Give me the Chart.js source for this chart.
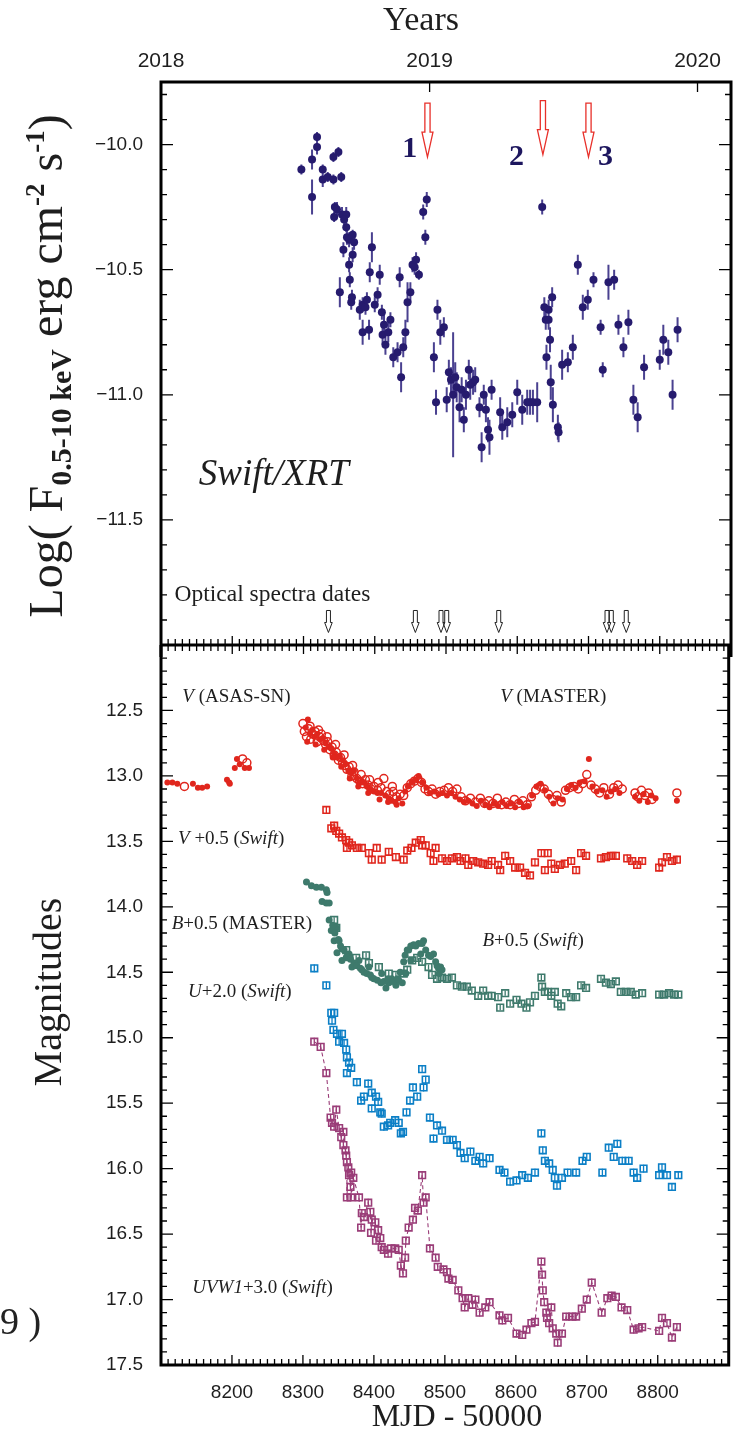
<!DOCTYPE html>
<html>
<head>
<meta charset="utf-8">
<script src="https://cdn.jsdelivr.net/npm/chart.js@4/dist/chart.umd.min.js"></script>
<style>
  html, body { margin: 0; padding: 0; background: #fff; }
  #wrap { position: relative; width: 735px; height: 1440px; overflow: hidden; }
  canvas { position: absolute; left: 0; }
  #cTop { top: 0; }
  #cBot { top: 600px; }
  #frag { position: absolute; left: 0; top: 1302px; font: 38px "Liberation Serif"; line-height: 38px; color: #222; }
</style>
</head>
<body>
<div id="wrap">
  <canvas id="cBot" width="735" height="840"></canvas>
  <canvas id="cTop" width="735" height="675"></canvas>
  <div id="frag">9 )</div>
</div>
<script>
// ---------- data ----------
// x axis: MJD - 50000
const mjdRange = [8100, 8900];
const mjdTickVals = [8200, 8300, 8400, 8500, 8600, 8700, 8800];
const yearTickMjd = [8100, 8477, 8853];
const yearLabels = ["2018", "2019", "2020"];

// top panel: Swift/XRT log flux
const fluxRange = [-12.0, -9.75];
const fluxTickVals = [-10.0, -10.5, -11.0, -11.5];
const xrtMjd = [8297, 8312, 8312, 8319, 8319, 8327, 8327, 8334, 8342, 8342, 8349, 8353, 8344, 8347, 8343, 8354,
  8360, 8357, 8360, 8361, 8364, 8369, 8371, 8356, 8369, 8364, 8365, 8351, 8368, 8367, 8379, 8383, 8387, 8389,
  8396, 8393, 8400, 8404, 8407, 8410, 8422, 8435, 8446, 8450, 8453, 8458, 8456, 8462, 8468, 8471, 8473,
  8383, 8392, 8413, 8411, 8419, 8415, 8432, 8426, 8440, 8443, 8437,
  8488, 8492, 8497, 8483, 8486, 8501, 8504, 8507, 8510, 8513, 8515, 8519, 8522, 8525, 8528, 8532, 8534, 8538,
  8541, 8547, 8550, 8553, 8556, 8559, 8561, 8564, 8576, 8579, 8586, 8593, 8600, 8607, 8614, 8618, 8622, 8628,
  8635, 8638, 8644, 8649, 8640, 8644, 8646, 8641, 8647, 8650, 8657, 8658, 8663, 8671, 8678, 8685, 8692, 8699,
  8707, 8717, 8720, 8728, 8736, 8742, 8749, 8756, 8763, 8769, 8778, 8800, 8805, 8812, 8818, 8825];
const xrtFlux = [-10.10, -10.06, -10.21, -9.97, -10.01, -10.10, -10.14, -10.13, -10.14, -10.05, -10.03, -10.13, -10.25, -10.26, -10.29, -10.28,
  -10.28, -10.30, -10.33, -10.37, -10.38, -10.36, -10.39, -10.42, -10.44, -10.48, -10.54, -10.59, -10.61, -10.63, -10.66, -10.64, -10.65, -10.62,
  -10.41, -10.51, -10.64, -10.60, -10.52, -10.67, -10.70, -10.53, -10.63, -10.59, -10.48, -10.46, -10.49, -10.52, -10.27, -10.37, -10.22,
  -10.75, -10.74, -10.72, -10.76, -10.75, -10.80, -10.83, -10.85, -10.81, -10.75, -10.93,
  -10.66, -10.75, -10.73, -10.85, -11.03, -11.02, -10.91, -10.94, -11.00, -10.93, -10.97, -11.05, -10.98, -11.10, -11.00, -10.90, -10.96, -10.95,
  -10.94, -11.05, -11.21, -11.00, -11.06, -11.14, -11.17, -10.98, -11.07, -11.13, -11.11, -11.08, -10.99, -11.06, -11.03, -11.03, -11.03, -11.03,
  -10.25, -10.65, -10.66, -10.61, -10.70, -10.70, -10.78, -10.85, -10.95, -11.04, -11.13, -11.15, -10.88, -10.87, -10.81, -10.48, -10.65, -10.62,
  -10.54, -10.73, -10.90, -10.55, -10.54, -10.72, -10.81, -10.71, -11.02, -11.09, -10.89, -10.86, -10.78, -10.83, -11.00, -10.74];
const xrtErr = [0.02, 0.04, 0.07, 0.02, 0.03, 0.02, 0.03, 0.02, 0.02, 0.02, 0.02, 0.02, 0.02, 0.03, 0.02, 0.03,
  0.03, 0.02, 0.02, 0.03, 0.03, 0.02, 0.03, 0.03, 0.03, 0.03, 0.03, 0.06, 0.03, 0.03, 0.04, 0.03, 0.03, 0.03,
  0.06, 0.04, 0.03, 0.03, 0.04, 0.03, 0.03, 0.04, 0.08, 0.04, 0.03, 0.03, 0.03, 0.02, 0.03, 0.03, 0.03,
  0.05, 0.04, 0.04, 0.04, 0.04, 0.04, 0.04, 0.04, 0.04, 0.05, 0.06,
  0.04, 0.05, 0.04, 0.06, 0.05, 0.05, 0.05, 0.05, 0.25, 0.06, 0.06, 0.06, 0.05, 0.05, 0.06, 0.04, 0.06, 0.05,
  0.05, 0.04, 0.06, 0.04, 0.05, 0.05, 0.07, 0.04, 0.06, 0.05, 0.06, 0.05, 0.05, 0.06, 0.05, 0.05, 0.05, 0.08,
  0.03, 0.04, 0.04, 0.04, 0.04, 0.04, 0.05, 0.05, 0.07, 0.07, 0.05, 0.04, 0.06, 0.04, 0.05, 0.04, 0.05, 0.04,
  0.03, 0.03, 0.03, 0.07, 0.04, 0.04, 0.04, 0.05, 0.06, 0.06, 0.05, 0.04, 0.06, 0.05, 0.06, 0.05];

// X-ray flare markers 1,2,3 and optical spectra dates
const flareMjd = [8474, 8636, 8700];
const flareTipFlux = [-10.05, -10.04, -10.05];
const flareLabels = ["1", "2", "3"];
const flareLabelMjd = [8449, 8599, 8724];
const flareLabelFlux = [-10.02, -10.05, -10.05];
const spectraMjd = [8335, 8457, 8493, 8501, 8574, 8726, 8732, 8753];
const spectraTipFlux = -11.95;

// bottom panel: magnitudes
const magRange = [12.0, 17.5];
const magTickVals = [12.5, 13.0, 13.5, 14.0, 14.5, 15.0, 15.5, 16.0, 16.5, 17.0, 17.5];

const vAsasMjd = [8109, 8116, 8123, 8145, 8152, 8158, 8165, 8193, 8196, 8197, 8204, 8207, 8211, 8218, 8224,
  8304, 8307, 8310, 8313, 8316, 8320, 8324, 8328, 8332, 8336, 8340, 8344, 8348, 8352, 8356, 8360, 8364, 8368,
  8372, 8376, 8380, 8385, 8390, 8395, 8400, 8405, 8410, 8416, 8421, 8425, 8430, 8435, 8440, 8444, 8448, 8453,
  8458, 8463, 8468, 8474, 8479, 8485, 8491, 8497, 8503, 8509, 8515, 8521, 8527, 8533, 8539, 8545, 8551, 8557,
  8563, 8569, 8575, 8581, 8587, 8593, 8599, 8605, 8611, 8617, 8623, 8629, 8635, 8641, 8647, 8653, 8659, 8666,
  8672, 8678, 8684, 8690, 8697, 8703, 8708, 8714, 8722, 8728, 8734, 8740, 8746, 8768, 8774, 8780, 8786, 8791,
  8797, 8827,
  8306, 8318, 8330, 8342, 8354, 8366, 8378, 8392, 8408, 8420, 8432];
const vAsasMag = [13.05, 13.05, 13.06, 13.06, 13.09, 13.09, 13.08, 13.03, 13.05, 13.06, 12.94, 12.87, 12.91, 12.94, 12.94,
  12.63, 12.57, 12.68, 12.65, 12.70, 12.68, 12.72, 12.71, 12.75, 12.78, 12.79, 12.83, 12.86, 12.85, 12.88, 12.91, 12.96, 12.98,
  12.96, 13.02, 13.05, 13.05, 13.08, 13.10, 13.12, 13.13, 13.13, 13.15, 13.17, 13.19, 13.20, 13.17, 13.21, 13.12, 13.08, 13.05,
  13.03, 13.00, 13.05, 13.09, 13.13, 13.12, 13.14, 13.13, 13.15, 13.13, 13.16, 13.18, 13.20, 13.19, 13.21, 13.23, 13.19, 13.22,
  13.24, 13.21, 13.23, 13.20, 13.23, 13.21, 13.24, 13.20, 13.24, 13.23, 13.15, 13.08, 13.06, 13.11, 13.16, 13.21, 13.17, 13.18,
  13.10, 13.07, 13.09, 13.05, 13.04, 12.87, 13.08, 13.12, 13.11, 13.16, 13.12, 13.10, 13.13, 13.16, 13.19, 13.14, 13.20, 13.15,
  13.17, 13.19,
  12.74, 12.76, 12.80, 12.86, 12.93, 13.02, 13.08, 13.13, 13.18, 13.20, 13.22];

const vMasterMjd = [8133, 8215, 8221,
  8302, 8305, 8308, 8311, 8314, 8317, 8320, 8323, 8326, 8329, 8332, 8335, 8338, 8341, 8344, 8347, 8350, 8353,
  8356, 8359, 8362, 8365, 8369, 8372, 8376, 8380, 8384, 8388, 8392, 8396, 8400, 8405, 8410, 8414, 8418, 8422,
  8427, 8432, 8437, 8442, 8447, 8452, 8457, 8462, 8467, 8472, 8477, 8482, 8487, 8493, 8499, 8505, 8511, 8517,
  8523, 8529, 8536, 8543, 8550, 8556, 8562, 8568, 8574, 8580, 8586, 8592, 8598, 8604, 8610, 8616, 8622, 8628,
  8634, 8640, 8646, 8652, 8658, 8664, 8670, 8676, 8682, 8688, 8694, 8700, 8706, 8712, 8718, 8724, 8732, 8738,
  8744, 8750, 8768, 8772, 8777, 8782, 8787, 8792, 8827,
  8300, 8310, 8322, 8334, 8346, 8358, 8370, 8382, 8394, 8406, 8426];
const vMasterMag = [13.08, 12.87, 12.90,
  12.66, 12.70, 12.64, 12.72, 12.68, 12.66, 12.74, 12.70, 12.68, 12.73, 12.76, 12.74, 12.80, 12.78, 12.84, 12.82, 12.88, 12.86,
  12.90, 12.92, 12.95, 12.93, 13.00, 12.97, 13.02, 13.04, 13.06, 13.03, 13.07, 13.10, 13.08, 13.11, 13.09, 13.02, 13.12, 13.14,
  13.12, 13.16, 13.14, 13.15, 13.09, 13.06, 13.04, 13.02, 13.05, 13.10, 13.12, 13.10, 13.14, 13.12, 13.11, 13.09, 13.12, 13.10,
  13.16, 13.19, 13.17, 13.20, 13.17, 13.21, 13.19, 13.21, 13.17, 13.22, 13.20, 13.22, 13.18, 13.21, 13.19, 13.22, 13.16, 13.11,
  13.08, 13.10, 13.14, 13.18, 13.15, 13.20, 13.11, 13.09, 13.08, 13.10, 13.06, 12.99, 13.07, 13.10, 13.13, 13.09, 13.14, 13.09,
  13.07, 13.10, 13.13, 13.16, 13.11, 13.15, 13.13, 13.18, 13.13,
  12.60, 12.62, 12.65, 12.70, 12.76, 12.84, 12.92, 12.99, 13.03, 13.05, 13.08];

const vSwiftMjd = [8333, 8340, 8344, 8347, 8351, 8355, 8361, 8362, 8365, 8369, 8376, 8383, 8393, 8397, 8404, 8411,
  8421, 8431, 8442, 8447, 8453, 8459, 8466, 8468, 8473, 8480, 8484, 8487, 8496, 8503, 8510, 8517, 8522, 8529,
  8533, 8540, 8547, 8554, 8561, 8566, 8575, 8578, 8585, 8592, 8599, 8606, 8613, 8620, 8627, 8636, 8641, 8645,
  8650, 8655, 8662, 8669, 8678, 8685, 8692, 8699, 8720, 8727, 8734, 8741, 8757, 8764, 8771, 8778, 8802, 8806,
  8813, 8820, 8827];
const vSwiftMag = [13.26, 13.40, 13.38, 13.42, 13.44, 13.47, 13.49, 13.55, 13.51, 13.53, 13.55, 13.55, 13.59, 13.64, 13.55, 13.64,
  13.58, 13.62, 13.64, 13.57, 13.55, 13.51, 13.49, 13.53, 13.53, 13.59, 13.65, 13.55, 13.63, 13.65, 13.63, 13.62, 13.65, 13.63,
  13.68, 13.65, 13.66, 13.67, 13.68, 13.65, 13.68, 13.72, 13.61, 13.65, 13.70, 13.70, 13.74, 13.76, 13.66, 13.59, 13.72, 13.59,
  13.67, 13.71, 13.68, 13.67, 13.65, 13.72, 13.59, 13.61, 13.63, 13.62, 13.61, 13.61, 13.63, 13.65, 13.68, 13.65, 13.70, 13.66,
  13.62, 13.65, 13.64];
const vSwiftErr = 0.03;

const bMasterMjd = [8305, 8312, 8319, 8326, 8333, 8334, 8327, 8333, 8337,
  8337, 8347, 8351, 8355, 8365, 8379, 8393, 8411, 8425, 8431, 8417, 8440, 8447, 8456, 8463, 8470,
  8340, 8344, 8348, 8355, 8361, 8369, 8383, 8397, 8410, 8421, 8435, 8445, 8452,
  8449, 8466, 8477, 8484, 8489, 8494, 8496, 8492,
  8342, 8345, 8350, 8353, 8358, 8362, 8367, 8372, 8376, 8381, 8386, 8390, 8395, 8400, 8405, 8414,
  8420, 8427, 8433, 8437, 8442, 8444, 8452, 8459, 8468, 8473, 8480, 8487, 8491];
const bMasterMag = [13.81, 13.84, 13.85, 13.85, 13.87, 13.89, 13.96, 13.97, 13.97,
  14.10, 14.16, 14.26, 14.32, 14.36, 14.41, 14.46, 14.51, 14.55, 14.60, 14.62, 14.58, 14.33, 14.29, 14.28, 14.26,
  14.18, 14.26, 14.35, 14.41, 14.39, 14.46, 14.48, 14.54, 14.58, 14.58, 14.56, 14.51, 14.41,
  14.33, 14.36, 14.37, 14.36, 14.45, 14.46, 14.48, 14.51,
  14.14, 14.20, 14.25, 14.30, 14.33, 14.38, 14.40, 14.43, 14.45, 14.47, 14.50, 14.51, 14.52, 14.55, 14.56, 14.57,
  14.55, 14.57, 14.55, 14.50, 14.42, 14.37, 14.30, 14.30, 14.28, 14.33, 14.38, 14.42, 14.47];

const bSwiftMjd = [8344, 8347, 8361, 8375, 8389, 8393, 8407, 8421, 8431, 8442, 8447, 8454, 8461, 8468, 8477, 8482,
  8489, 8496, 8503, 8510, 8517, 8524, 8531, 8538, 8547, 8554, 8561, 8566, 8575, 8578, 8585, 8592, 8601, 8608,
  8615, 8620, 8627, 8636, 8637, 8641, 8645, 8650, 8655, 8659, 8664, 8671, 8678, 8685, 8692, 8699, 8720, 8727,
  8734, 8741, 8748, 8755, 8762, 8769, 8778, 8802, 8809, 8816, 8823, 8829];
const bSwiftMag = [14.10, 14.16, 14.33, 14.39, 14.37, 14.43, 14.46, 14.51, 14.52, 14.51, 14.48, 14.41, 14.39, 14.42, 14.46, 14.52,
  14.55, 14.54, 14.55, 14.54, 14.60, 14.61, 14.61, 14.64, 14.68, 14.64, 14.68, 14.68, 14.69, 14.77, 14.66, 14.74, 14.71, 14.74,
  14.77, 14.73, 14.68, 14.54, 14.61, 14.65, 14.65, 14.68, 14.65, 14.74, 14.76, 14.66, 14.69, 14.69, 14.60, 14.62, 14.55, 14.58,
  14.59, 14.57, 14.65, 14.65, 14.65, 14.67, 14.66, 14.67, 14.67, 14.66, 14.67, 14.67];
const bSwiftErr = 0.02;

const uSwiftMjd = [8316, 8333, 8340, 8344, 8341, 8343, 8348, 8355, 8351, 8358, 8361, 8362, 8365, 8362, 8368,
  8376, 8392, 8382, 8386, 8397, 8403, 8406, 8397, 8409, 8411, 8414, 8420, 8423, 8430, 8435, 8438, 8441, 8446,
  8451, 8455, 8461, 8468, 8470, 8473, 8479, 8484, 8489, 8496, 8503, 8511, 8517, 8522, 8528, 8536, 8543, 8549,
  8554, 8563, 8577, 8584, 8592, 8601, 8609, 8617, 8627, 8636, 8638, 8641, 8647, 8652, 8655, 8658, 8665, 8673,
  8685, 8694, 8700, 8722, 8731, 8738, 8743, 8750, 8759, 8766, 8771, 8780, 8802, 8806, 8813, 8820, 8829];
const uSwiftMag = [14.47, 14.60, 14.81, 14.81, 14.87, 14.94, 14.97, 14.97, 15.03, 15.04, 15.09, 15.15, 15.19, 15.27, 15.23,
  15.34, 15.35, 15.48, 15.45, 15.42, 15.45, 15.49, 15.54, 15.57, 15.58, 15.68, 15.67, 15.65, 15.63, 15.65, 15.73, 15.72, 15.57,
  15.48, 15.38, 15.45, 15.24, 15.38, 15.32, 15.61, 15.77, 15.67, 15.71, 15.78, 15.78, 15.82, 15.88, 15.92, 15.87, 15.94, 15.91,
  15.96, 15.92, 16.01, 16.03, 16.10, 16.09, 16.05, 16.07, 16.03, 15.73, 15.86, 15.94, 15.96, 16.01, 16.07, 16.13, 16.07, 16.03,
  16.03, 15.94, 15.91, 16.03, 15.84, 15.91, 15.81, 15.94, 15.94, 16.03, 16.07, 16.00, 16.05, 15.99, 16.05, 16.14, 16.05];
const uSwiftErr = 0.03;

const uvw1Mjd = [8316, 8325, 8333, 8339, 8341, 8344, 8347, 8351, 8354, 8357, 8357, 8360, 8361, 8362, 8362, 8364,
  8365, 8367, 8368, 8368, 8371, 8379, 8382, 8383, 8386, 8392, 8395, 8396, 8397, 8402, 8403, 8406, 8409, 8411,
  8414, 8420, 8424, 8430, 8435, 8438, 8441, 8444, 8445, 8449, 8455, 8458, 8462, 8468, 8470, 8473, 8479, 8487,
  8490, 8498, 8503, 8505, 8511, 8519, 8525, 8528, 8533, 8539, 8543, 8549, 8557, 8563, 8577, 8581, 8589, 8601,
  8609, 8615, 8622, 8627, 8636, 8637, 8638, 8640, 8643, 8644, 8647, 8650, 8652, 8657, 8659, 8665, 8671, 8679,
  8685, 8693, 8700, 8707, 8721, 8729, 8735, 8741, 8749, 8757, 8766, 8773, 8778, 8802, 8806, 8813, 8820, 8827];
const uvw1Mag = [15.03, 15.07, 15.27, 15.61, 15.65, 15.68, 15.55, 15.69, 15.76, 15.72, 15.82, 15.86, 15.90, 15.95, 16.22, 15.99,
  16.05, 16.14, 16.03, 16.22, 16.07, 16.22, 16.45, 16.34, 16.37, 16.26, 16.33, 16.49, 16.39, 16.41, 16.55, 16.47, 16.53, 16.60,
  16.62, 16.65, 16.61, 16.61, 16.62, 16.74, 16.80, 16.68, 16.55, 16.45, 16.39, 16.30, 16.32, 16.05, 16.26, 16.22, 16.61, 16.68,
  16.75, 16.77, 16.79, 16.84, 16.85, 16.93, 16.99, 17.06, 16.99, 17.04, 17.00, 17.10, 17.06, 17.02, 17.12, 17.16, 17.14, 17.26,
  17.27, 17.23, 17.18, 17.17, 16.71, 16.81, 16.93, 17.02, 17.10, 17.14, 17.18, 17.06, 17.22, 17.26, 17.33, 17.26, 17.13, 17.13,
  17.13, 17.07, 17.00, 16.87, 17.10, 16.99, 16.97, 16.98, 17.06, 17.08, 17.23, 17.22, 17.21, 17.24, 17.14, 17.18, 17.29, 17.21];
const uvw1Err = 0.03;

// ---------- styling ----------
const NAVY = "#261b6e", NAVY_BAR = "#4a4190";
const RED = "#e0261d", TEAL = "#3e7a6c", BLUE = "#0b7fc6", PURPLE = "#9a3d78";
const INK = "#1e1e1e";
const SERIF = '"Liberation Serif", "Times New Roman", serif';
const tickFont = { family: "Liberation Sans", size: 19 };

const pts = (xs, ys) => xs.map((x, i) => ({ x, y: ys[i] }));

// rich text: parts = [[text, italic]]
function drawRich(ctx, x, y, parts, size, color) {
  ctx.save();
  ctx.fillStyle = color;
  ctx.textBaseline = "middle";
  ctx.textAlign = "left";
  let cx = x;
  for (const [t, it] of parts) {
    ctx.font = (it ? "italic " : "") + size + "px " + SERIF;
    ctx.fillText(t, cx, y);
    cx += ctx.measureText(t).width;
  }
  ctx.restore();
}

function hollowArrow(ctx, x, yTip, len, shaftHalf, headHalf, headLen) {
  const yTop = yTip - len, yNeck = yTip - headLen;
  ctx.beginPath();
  ctx.moveTo(x - shaftHalf, yTop);
  ctx.lineTo(x + shaftHalf, yTop);
  ctx.lineTo(x + shaftHalf, yNeck);
  ctx.lineTo(x + headHalf, yNeck);
  ctx.lineTo(x, yTip);
  ctx.lineTo(x - headHalf, yNeck);
  ctx.lineTo(x - shaftHalf, yNeck);
  ctx.closePath();
  ctx.stroke();
}

// vertical error bars under the markers
const errorBars = {
  id: "errorBars",
  beforeDatasetsDraw(chart) {
    const { ctx, scales } = chart;
    chart.data.datasets.forEach(ds => {
      if (ds.errs === undefined && ds.err === undefined) return;
      ctx.save();
      ctx.strokeStyle = ds.barColor || ds.borderColor;
      ctx.lineWidth = ds.barWidth || 1.3;
      ctx.beginPath();
      ds.data.forEach((p, j) => {
        const e = ds.errs ? ds.errs[j] : ds.err;
        const px = scales.x.getPixelForValue(p.x);
        ctx.moveTo(px, scales.y.getPixelForValue(p.y - e));
        ctx.lineTo(px, scales.y.getPixelForValue(p.y + e));
      });
      ctx.stroke();
      ctx.restore();
    });
  }
};

// frame + inward ticks
function sideTicks(ctx, a, ys, lo, hi) {
  for (let k = Math.ceil(lo * 10 - 1e-6); k <= Math.floor(hi * 10 + 1e-6); k++) {
    const py = ys.getPixelForValue(k / 10);
    const len = k % 5 === 0 ? 12 : 6;
    ctx.moveTo(a.left, py); ctx.lineTo(a.left + len, py);
    ctx.moveTo(a.right, py); ctx.lineTo(a.right - len, py);
  }
}

const frameTop = {
  id: "frameTop",
  afterDraw(chart) {
    const { ctx, chartArea: a, scales: { x, y } } = chart;
    ctx.save();
    ctx.strokeStyle = "#000";
    ctx.lineWidth = 1.3;
    ctx.beginPath();
    sideTicks(ctx, a, y, fluxRange[0], fluxRange[1]);
    yearTickMjd.slice(1).forEach(v => {
      const px = x.getPixelForValue(v);
      ctx.moveTo(px, a.top); ctx.lineTo(px, a.top + 10);
    });
    // shared ruler at the bottom of the panel
    for (let m = mjdRange[0]; m <= mjdRange[1]; m += 10) {
      const px = x.getPixelForValue(m);
      const len = m % 100 === 0 ? 9 : 6;
      ctx.moveTo(px, a.bottom - len); ctx.lineTo(px, a.bottom + len);
    }
    ctx.stroke();
    ctx.lineWidth = 3;
    ctx.beginPath();
    ctx.moveTo(a.left, a.bottom + 12); ctx.lineTo(a.left, a.top);
    ctx.lineTo(a.right, a.top); ctx.lineTo(a.right, a.bottom + 12);
    ctx.moveTo(a.left, a.bottom); ctx.lineTo(a.right, a.bottom);
    ctx.stroke();
    ctx.restore();
  }
};

const frameBot = {
  id: "frameBot",
  afterDraw(chart) {
    const { ctx, chartArea: a, scales: { x, y } } = chart;
    ctx.save();
    ctx.strokeStyle = "#000";
    ctx.lineWidth = 1.3;
    ctx.beginPath();
    sideTicks(ctx, a, y, magRange[0], magRange[1]);
    for (let m = mjdRange[0]; m <= mjdRange[1]; m += 10) {
      const px = x.getPixelForValue(m);
      const len = m % 100 === 0 ? 10 : 6;
      ctx.moveTo(px, a.bottom); ctx.lineTo(px, a.bottom - len);
    }
    ctx.stroke();
    ctx.lineWidth = 3;
    ctx.beginPath();
    ctx.moveTo(a.left, a.top); ctx.lineTo(a.left, a.bottom);
    ctx.lineTo(a.right, a.bottom); ctx.lineTo(a.right, a.top);
    ctx.stroke();
    ctx.restore();
  }
};

// annotations of the X-ray panel
const topNotes = {
  id: "topNotes",
  afterDraw(chart) {
    const { ctx, scales: { x, y } } = chart;
    ctx.save();
    ctx.strokeStyle = "#e8302a";
    ctx.lineWidth = 1.3;
    flareMjd.forEach((m, i) => hollowArrow(ctx, x.getPixelForValue(m), y.getPixelForValue(flareTipFlux[i]), 54, 2.6, 5.5, 25));
    ctx.fillStyle = "#1d165e";
    ctx.font = "bold 30px " + SERIF;
    ctx.textAlign = "center";
    ctx.textBaseline = "middle";
    flareLabels.forEach((t, i) => ctx.fillText(t, x.getPixelForValue(flareLabelMjd[i]), y.getPixelForValue(flareLabelFlux[i])));
    ctx.strokeStyle = "#222";
    ctx.lineWidth = 1;
    spectraMjd.forEach(m => hollowArrow(ctx, x.getPixelForValue(m), y.getPixelForValue(spectraTipFlux), 22, 2, 3.8, 10));
    ctx.restore();
    drawRich(ctx, x.getPixelForValue(8153), y.getPixelForValue(-11.32), [["Swift/XRT", true]], 37, INK);
    drawRich(ctx, x.getPixelForValue(8119), y.getPixelForValue(-11.80), [["Optical spectra dates", false]], 23.5, INK);

    // axis titles
    ctx.save();
    ctx.fillStyle = INK;
    ctx.textAlign = "center";
    ctx.textBaseline = "alphabetic";
    ctx.font = "34px " + SERIF;
    ctx.fillText("Years", 421, 30);
    ctx.translate(62, 366);
    ctx.rotate(-Math.PI / 2);
    const parts = [["Log( F", "", 48, 0], ["0.5-10 keV", "bold ", 30, 9], [" erg cm", "", 48, 0],
      ["-2", "bold ", 27, -18], [" s", "", 48, 0], ["-1", "bold ", 27, -18], [")", "", 48, 0]];
    let total = 0;
    parts.forEach(p => { ctx.font = p[1] + p[2] + "px " + SERIF; total += ctx.measureText(p[0]).width; });
    let cx = -total / 2;
    ctx.textAlign = "left";
    parts.forEach(p => {
      ctx.font = p[1] + p[2] + "px " + SERIF;
      ctx.fillText(p[0], cx, p[3]);
      cx += ctx.measureText(p[0]).width;
    });
    ctx.restore();
  }
};

const botNotes = {
  id: "botNotes",
  afterDraw(chart) {
    const { ctx, scales: { x, y } } = chart;
    const notes = [
      [8130, 12.40, [["V", true], [" (ASAS-SN)", false]]],
      [8578, 12.40, [["V", true], [" (MASTER)", false]]],
      [8124, 13.48, [["V", true], [" +0.5 (", false], ["Swift", true], [")", false]]],
      [8115, 14.13, [["B", true], ["+0.5 (MASTER)", false]]],
      [8553, 14.26, [["B", true], ["+0.5 (", false], ["Swift", true], [")", false]]],
      [8138, 14.65, [["U", true], ["+2.0 (", false], ["Swift", true], [")", false]]],
      [8144, 16.91, [["UVW1", true], ["+3.0 (", false], ["Swift", true], [")", false]]]
    ];
    notes.forEach(n => drawRich(ctx, x.getPixelForValue(n[0]), y.getPixelForValue(n[1]), n[2], 19, INK));
    ctx.save();
    ctx.fillStyle = INK;
    ctx.textAlign = "center";
    ctx.textBaseline = "alphabetic";
    ctx.font = "32px " + SERIF;
    ctx.fillText("MJD - 50000", 457, 826);
    ctx.translate(61, 392);
    ctx.rotate(-Math.PI / 2);
    ctx.font = "40px " + SERIF;
    ctx.fillText("Magnitudes", 0, 0);
    ctx.restore();
  }
};

const fmt = v => v.toFixed(1).replace("-", "\u2212");

// ---------- top chart: X-ray ----------
new Chart(document.getElementById("cTop"), {
  type: "scatter",
  data: {
    datasets: [{
      label: "Swift/XRT",
      data: pts(xrtMjd, xrtFlux),
      errs: xrtErr,
      barColor: NAVY_BAR,
      barWidth: 2,
      pointRadius: 4,
      pointBackgroundColor: NAVY,
      pointBorderWidth: 0,
      borderColor: NAVY
    }]
  },
  options: {
    responsive: false,
    animation: false,
    layout: { padding: { left: 0, right: 3, top: 0, bottom: 30 } },
    plugins: { legend: { display: false }, tooltip: { enabled: false } },
    scales: {
      x: {
        type: "linear", position: "top", min: mjdRange[0], max: mjdRange[1],
        afterFit: s => { s.height = 82; },
        afterBuildTicks: s => { s.ticks = yearTickMjd.map(v => ({ value: v })); },
        ticks: { callback: (v, i) => yearLabels[i], font: { family: "Liberation Sans", size: 21 }, color: INK, padding: 8, autoSkip: false, maxRotation: 0 },
        grid: { display: false, drawTicks: false },
        border: { display: false }
      },
      y: {
        min: fluxRange[0], max: fluxRange[1],
        afterFit: s => { s.width = 161; },
        afterBuildTicks: s => { s.ticks = fluxTickVals.map(v => ({ value: v })); },
        ticks: { callback: v => fmt(v), font: tickFont, color: INK, padding: 18 },
        grid: { display: false, drawTicks: false },
        border: { display: false }
      }
    }
  },
  plugins: [errorBars, frameTop, topNotes]
});

// ---------- bottom chart: magnitudes ----------
const open = "rgba(0,0,0,0)";
const sq = { pointStyle: "rect", pointRadius: 4.7, pointBackgroundColor: open, pointBorderWidth: 1.6 };
new Chart(document.getElementById("cBot"), {
  type: "scatter",
  data: {
    datasets: [
      { label: "V ASAS-SN", data: pts(vAsasMjd, vAsasMag), pointRadius: 3, pointBackgroundColor: RED, pointBorderWidth: 0, borderColor: RED },
      { label: "V MASTER", data: pts(vMasterMjd, vMasterMag), pointRadius: 4, pointBackgroundColor: open, pointBorderColor: RED, pointBorderWidth: 1.5, borderColor: RED },
      Object.assign({ label: "V Swift", data: pts(vSwiftMjd, vSwiftMag), err: vSwiftErr, pointBorderColor: RED, borderColor: RED }, sq),
      { label: "B MASTER", data: pts(bMasterMjd, bMasterMag), pointRadius: 3.5, pointBackgroundColor: TEAL, pointBorderWidth: 0, borderColor: TEAL },
      Object.assign({ label: "B Swift", data: pts(bSwiftMjd, bSwiftMag), err: bSwiftErr, pointBorderColor: TEAL, borderColor: TEAL }, sq),
      Object.assign({ label: "U Swift", data: pts(uSwiftMjd, uSwiftMag), err: uSwiftErr, pointBorderColor: BLUE, borderColor: BLUE }, sq),
      Object.assign({ label: "UVW1 Swift", data: pts(uvw1Mjd, uvw1Mag), err: uvw1Err, pointBorderColor: PURPLE, borderColor: PURPLE }, sq),
      { label: "UVW1 line", data: pts(uvw1Mjd, uvw1Mag), showLine: true, pointRadius: 0, borderColor: PURPLE, borderWidth: 1.1, borderDash: [4, 3], fill: false }
    ]
  },
  options: {
    responsive: false,
    animation: false,
    layout: { padding: { left: 0, right: 3, top: 45, bottom: 0 } },
    plugins: { legend: { display: false }, tooltip: { enabled: false } },
    scales: {
      x: {
        type: "linear", position: "bottom", min: mjdRange[0], max: mjdRange[1],
        afterFit: s => { s.height = 75; },
        afterBuildTicks: s => { s.ticks = mjdTickVals.map(v => ({ value: v })); },
        ticks: { callback: v => String(v), font: tickFont, color: INK, padding: 16, autoSkip: false, maxRotation: 0 },
        grid: { display: false, drawTicks: false },
        border: { display: false }
      },
      y: {
        reverse: true, min: magRange[0], max: magRange[1],
        afterFit: s => { s.width = 161; },
        afterBuildTicks: s => { s.ticks = magTickVals.map(v => ({ value: v })); },
        ticks: { callback: v => fmt(v), font: tickFont, color: INK, padding: 18 },
        grid: { display: false, drawTicks: false },
        border: { display: false }
      }
    }
  },
  plugins: [errorBars, frameBot, botNotes]
});
</script>
</body>
</html>
